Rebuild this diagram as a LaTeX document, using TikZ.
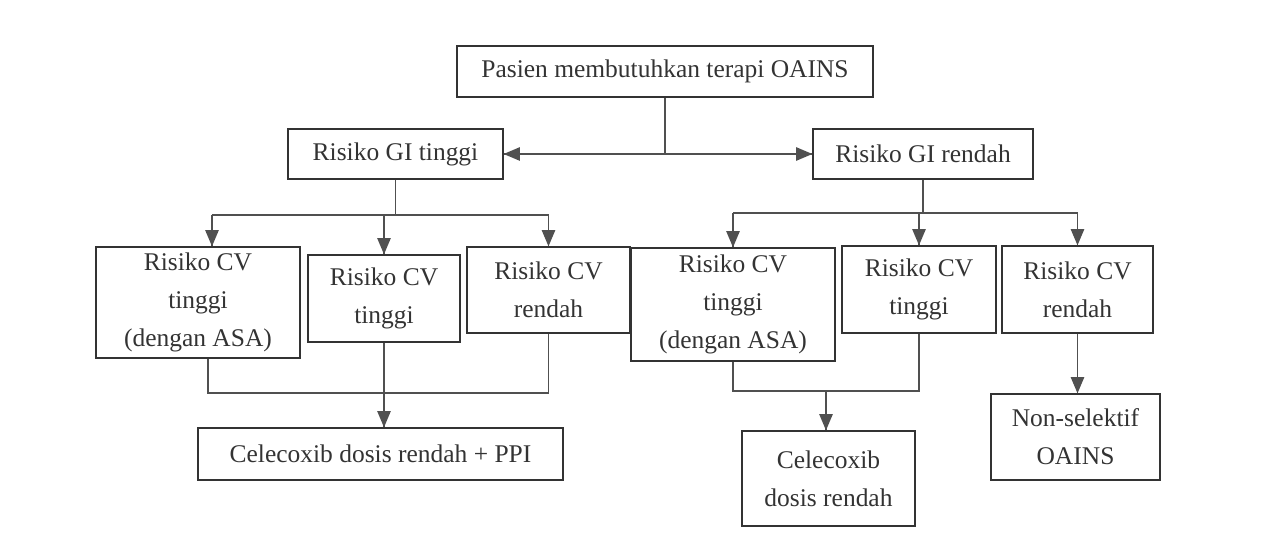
\documentclass[tikz,border=0pt]{standalone}
\usepackage{fontspec}
\setmainfont{Liberation Serif}
\usetikzlibrary{arrows}
\usetikzlibrary{decorations.markings}
\usetikzlibrary{positioning}
\definecolor{ink}{HTML}{333333}
\definecolor{linegrey}{HTML}{505050}
\tikzset{arr/.style = {decoration={markings,
                                  mark=at position 1 with {\arrow[scale=1.3]{triangle 45}}},
                      postaction={decorate}}}
\tikzset{box/.style = {draw = ink, line width = 0.8pt, align = center, text = ink,
                       inner sep = 0, font = \fontsize{14.5}{21.5}\selectfont}}
\tikzset{wire/.style = {color = linegrey, line width = 0.6pt}}

\begin{document}
\begin{tikzpicture}[x = 0.02cm, y = -0.02cm]
      \useasboundingbox (0, 0) rectangle (1282, 557);
      % boxes
      \node [box, minimum width = 8.32cm, minimum height = 1.02cm] (top) at (665, 71.5) {Pasien membutuhkan terapi OAINS};
      \node [box, minimum width = 4.3cm, minimum height = 1cm] (giHigh) at (395.5, 154) {Risiko GI tinggi};
      \node [box, minimum width = 4.4cm, minimum height = 1cm] (giLow) at (923, 154) {Risiko GI rendah};
      \node [box, minimum width = 4.08cm, minimum height = 2.22cm] (cvA) at (198, 302.5) {Risiko CV\\tinggi\\(dengan ASA)};
      \node [box, minimum width = 3.04cm, minimum height = 1.74cm] (cvB) at (384, 298.5) {Risiko CV\\tinggi};
      \node [box, minimum width = 3.26cm, minimum height = 1.72cm] (cvC) at (548.5, 290) {Risiko CV\\rendah};
      \node [box, minimum width = 4.08cm, minimum height = 2.26cm] (cvD) at (733, 304.5) {Risiko CV\\tinggi\\(dengan ASA)};
      \node [box, minimum width = 3.08cm, minimum height = 1.74cm] (cvE) at (919, 289.5) {Risiko CV\\tinggi};
      \node [box, minimum width = 3.02cm, minimum height = 1.74cm] (cvF) at (1077.5, 289.5) {Risiko CV\\rendah};
      \node [box, minimum width = 7.3cm, minimum height = 1.04cm] (ppi) at (380.5, 454) {Celecoxib dosis rendah + PPI};
      \node [box, minimum width = 3.46cm, minimum height = 1.9cm] (cele) at (828.5, 478.5) {Celecoxib\\dosis rendah};
      \node [box, minimum width = 3.38cm, minimum height = 1.72cm] (nsaid) at (1075.5, 437) {Non-selektif\\OAINS};
      % helper points
      \coordinate (split) at (top.south |- giHigh.east);
      \coordinate (lbar) at (0, 215);
      \coordinate (rbar) at (0, 213);
      \coordinate (lbot) at (0, 393);
      \coordinate (rbot) at (826, 391);
      \coordinate (aTop) at ([xshift = 0.28cm] cvA.north);
      \coordinate (aBot) at ([xshift = 0.2cm] cvA.south);
      % top level
      \draw [wire] (top.south) -- (split);
      \draw [wire, arr] (split) -- (giHigh.east);
      \draw [wire, arr] (split) -- (giLow.west);
      % high GI risk
      \draw [wire] (giHigh.south) -- (giHigh.south |- lbar);
      \draw [wire] (aTop |- lbar) -- (cvC.north |- lbar);
      \draw [wire, arr] (aTop |- lbar) -- (aTop);
      \draw [wire, arr] (cvB.north |- lbar) -- (cvB.north);
      \draw [wire, arr] (cvC.north |- lbar) -- (cvC.north);
      \draw [wire] (aBot) -- (aBot |- lbot) -- (cvC.south |- lbot) -- (cvC.south);
      \draw [wire, arr] (cvB.south) -- (cvB.south |- ppi.north);
      % low GI risk
      \draw [wire] (giLow.south) -- (giLow.south |- rbar);
      \draw [wire] (cvD.north |- rbar) -- (cvF.north |- rbar);
      \draw [wire, arr] (cvD.north |- rbar) -- (cvD.north);
      \draw [wire, arr] (cvE.north |- rbar) -- (cvE.north);
      \draw [wire, arr] (cvF.north |- rbar) -- (cvF.north);
      \draw [wire] (cvD.south) -- (cvD.south |- rbot) -- (cvE.south |- rbot) -- (cvE.south);
      \draw [wire, arr] (rbot) -- (rbot |- cele.north);
      \draw [wire, arr] (cvF.south) -- (cvF.south |- nsaid.north);
\end{tikzpicture}
\end{document}
